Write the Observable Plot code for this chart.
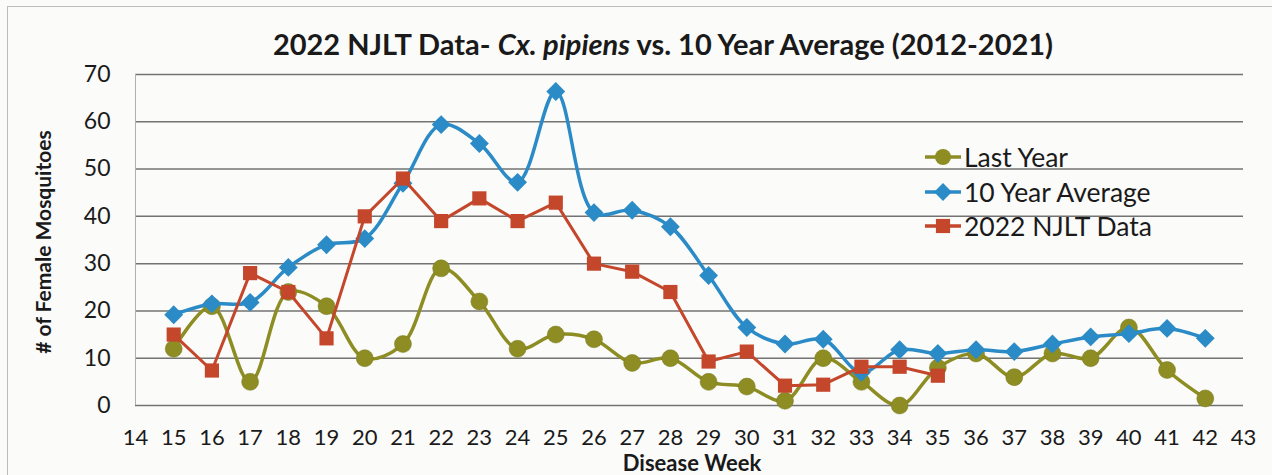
<!DOCTYPE html>
<html>
<head>
<meta charset="utf-8">
<script src="https://cdn.jsdelivr.net/npm/d3@7"></script>
<script src="https://cdn.jsdelivr.net/npm/@observablehq/plot@0.6"></script>
<style>
  html, body { margin: 0; padding: 0; background: #ffffff; }
  #wrap { position: relative; width: 1272px; height: 475px; overflow: hidden; background: #fbfbfa; font-family: Lato, "Open Sans", sans-serif; color: #1a1a1a; }
  #frame { position: absolute; left: 7px; top: 6px; width: 1280px; height: 480px; border-left: 1.5px solid #bdbdbd; border-top: 1.5px solid #bdbdbd; }
  #title { position: absolute; left: 0; width: 1326px; top: 26px; text-align: center; font-size: 29px; font-weight: bold; line-height: 36px; }
  #legend { position: absolute; left: 924px; top: 140px; font-size: 26.5px; }
  #legend .item { height: 34.5px; display: flex; align-items: center; }
  #legend svg { margin-right: 2px; }
  #chart { position: absolute; left: 0; top: 0; }
  #ylabel { position: absolute; left: 42px; top: 242px; transform: translate(-50%, -50%) rotate(-90deg); white-space: nowrap; font-size: 21px; font-weight: bold; }
  #xlabel { position: absolute; left: 692px; top: 462px; transform: translate(-50%, -50%); white-space: nowrap; font-size: 22px; font-weight: bold; }
</style>
</head>
<body>
<div id="wrap">
  <div id="frame"></div>
  <div id="chart"></div>
  <div id="title">2022 NJLT Data- <i>Cx. pipiens</i> vs. 10 Year Average (2012-2021)</div>
  <div id="ylabel"># of Female Mosquitoes</div>
  <div id="xlabel">Disease Week</div>
  <div id="legend"></div>
</div>
<script>
const weeks = [15,16,17,18,19,20,21,22,23,24,25,26,27,28,29,30,31,32,33,34,35,36,37,38,39,40,41,42];
const lastYear = [12,21,5,24,21,10,13,29,22,12,15,14,9,10,5,4,1,10,5,0,8,11,6,11,10,16.5,7.5,1.5];
const tenYearAvg = [19.2,21.5,21.8,29.2,34,35.3,47,59.4,55.4,47.2,66.4,40.8,41.3,37.8,27.5,16.5,13,14,7,11.8,11,11.8,11.4,13,14.5,15.2,16.3,14.2];
const njlt2022 = [15,7.4,28,24,14.2,40,48,39,43.8,39,42.9,30,28.3,24,9.3,11.4,4.2,4.4,8.2,8.2,6.3];
const seriesNames = ["Last Year", "10 Year Average", "2022 NJLT Data"];
const seriesColors = ["#8d8d24", "#2b8bc6", "#c4462b"];
const seriesSymbols = ["circle", "diamond2", "square"];
const xTicks = d3.range(14, 44);
const yTicks = [0,10,20,30,40,50,60,70];

const toRows = (vals, name) => vals.map((v, i) => ({week: weeks[i], value: v, series: name}));
const rowsLY = toRows(lastYear, seriesNames[0]);
const rowsAvg = toRows(tenYearAvg, seriesNames[1]);
const rowsNJ = toRows(njlt2022, seriesNames[2]);

const chart = Plot.plot({
  width: 1272,
  height: 475,
  marginLeft: 135,
  marginRight: 29,
  marginTop: 74,
  marginBottom: 70,
  style: {background: "transparent", fontFamily: "Lato, 'Open Sans', sans-serif", color: "#1a1a1a"},
  x: {domain: [14, 43], label: null},
  y: {domain: [0, 70], label: null},
  marks: [
    Plot.gridY(yTicks, {stroke: "#5a5a5a", strokeOpacity: 0.85, strokeWidth: 1.5}),
    Plot.ruleX([14], {stroke: "#b0b0b0", strokeWidth: 1}),
    Plot.axisX({ticks: xTicks, tickSize: 0, tickPadding: 24, fontSize: 22, tickFormat: d => String(d), label: null}),
    Plot.axisY({ticks: yTicks, tickSize: 0, tickPadding: 25, fontSize: 23, label: null}),
    Plot.line(rowsLY, {x: "week", y: "value", stroke: seriesColors[0], strokeWidth: 3.5, curve: "catmull-rom"}),
    Plot.dot(rowsLY, {x: "week", y: "value", fill: seriesColors[0], stroke: "#7a7a1c", strokeWidth: 0.5, r: 8.5, symbol: seriesSymbols[0]}),
    Plot.line(rowsAvg, {x: "week", y: "value", stroke: seriesColors[1], strokeWidth: 3.5, curve: "catmull-rom"}),
    Plot.dot(rowsAvg, {x: "week", y: "value", fill: seriesColors[1], r: 8.5, symbol: seriesSymbols[1]}),
    Plot.line(rowsNJ, {x: "week", y: "value", stroke: seriesColors[2], strokeWidth: 3, curve: "linear"}),
    Plot.dot(rowsNJ, {x: "week", y: "value", fill: seriesColors[2], r: 8, symbol: seriesSymbols[2]})
  ]
});
document.getElementById("chart").appendChild(chart);

// legend
const legend = document.getElementById("legend");
seriesNames.forEach((name, i) => {
  const item = document.createElement("div");
  item.className = "item";
  const sw = d3.create("svg").attr("width", 38).attr("height", 22);
  sw.append("line").attr("x1", 1).attr("x2", 37).attr("y1", 11).attr("y2", 11)
    .attr("stroke", seriesColors[i]).attr("stroke-width", 3.5);
  const sym = {circle: d3.symbolCircle, diamond2: d3.symbolDiamond2, square: d3.symbolSquare}[seriesSymbols[i]];
  sw.append("path").attr("d", d3.symbol(sym, Math.PI * 8 * 8)()).attr("transform", "translate(19,11)").attr("fill", seriesColors[i]);
  item.appendChild(sw.node());
  const t = document.createElement("span");
  t.textContent = name;
  item.appendChild(t);
  legend.appendChild(item);
});
</script>
</body>
</html>
